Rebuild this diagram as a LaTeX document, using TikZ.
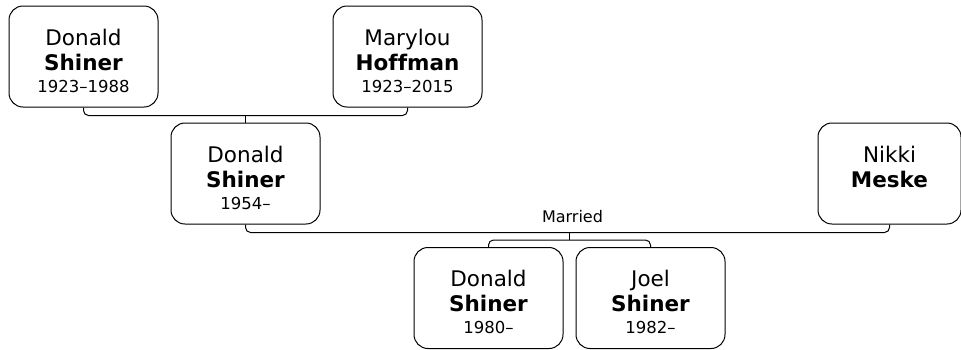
\documentclass[tikz,border=0pt]{standalone}
\usepackage{fontspec}
\setmainfont[Ligatures=NoCommon]{DejaVu Sans}
\usetikzlibrary{calc}

% card text: first name, surname (bold), optional dates
\newcommand{\personcard}[4][149pt]{%
  \parbox[c][101pt][t]{#1}{\centering\fontsize{21.5}{25}\selectfont
    \rule{0pt}{39pt}#2\\\textbf{#3}%
    \ifx\relax#4\relax\else\\[-3pt]{\fontsize{16.5}{18}\selectfont #4}\fi}}

\begin{document}
\begin{tikzpicture}[x=1pt, y=-1pt, line width=1pt,
    person/.style={draw, rounded corners=14pt, inner sep=0pt},
    link/.style={rounded corners=5pt}]
  \useasboundingbox (0,0) rectangle (961,349);

  \node[person] (donaldsr) at (83.5,56.5) {\personcard{Donald}{Shiner}{1923–1988}};
  \node[person] (marylou) at (407.5,56.5) {\personcard{Marylou}{Hoffman}{1923–2015}};
  \node[person] (donald) at (245.5,173.5) {\personcard{Donald}{Shiner}{1954–}};
  \node[person] (nikki) at (889.5,173.5) {\personcard[143pt]{Nikki}{Meske}{}};
  \node[person] (donaldjr) at (488.5,298) {\personcard{Donald}{Shiner}{1980–}};
  \node[person] (joel) at (650.5,298) {\personcard{Joel}{Shiner}{1982–}};

  % parents of Donald
  \draw[link] (donaldsr.south) -- ++(0,8) -| (marylou.south);
  \coordinate (pbar) at ($(donaldsr.south)!0.5!(marylou.south)+(0,8)$);
  \draw (pbar) -- (donald.north);

  % marriage
  \draw[link] (donald.south) -- ++(0,8) -| (nikki.south);
  \coordinate (mline) at ($(donald.south)+(0,8)$);

  % children
  \draw[link] (donaldjr.north) -- ++(0,-7) -| (joel.north);
  \coordinate (kbar) at ($(donaldjr.north)!0.5!(joel.north)+(0,-7)$);
  \draw (kbar) -- (kbar |- mline);

  \node[font=\fontsize{16}{18}\selectfont, anchor=base] (married)
    at ($(kbar |- mline)+(3,-10)$) {Married};
\end{tikzpicture}
\end{document}
